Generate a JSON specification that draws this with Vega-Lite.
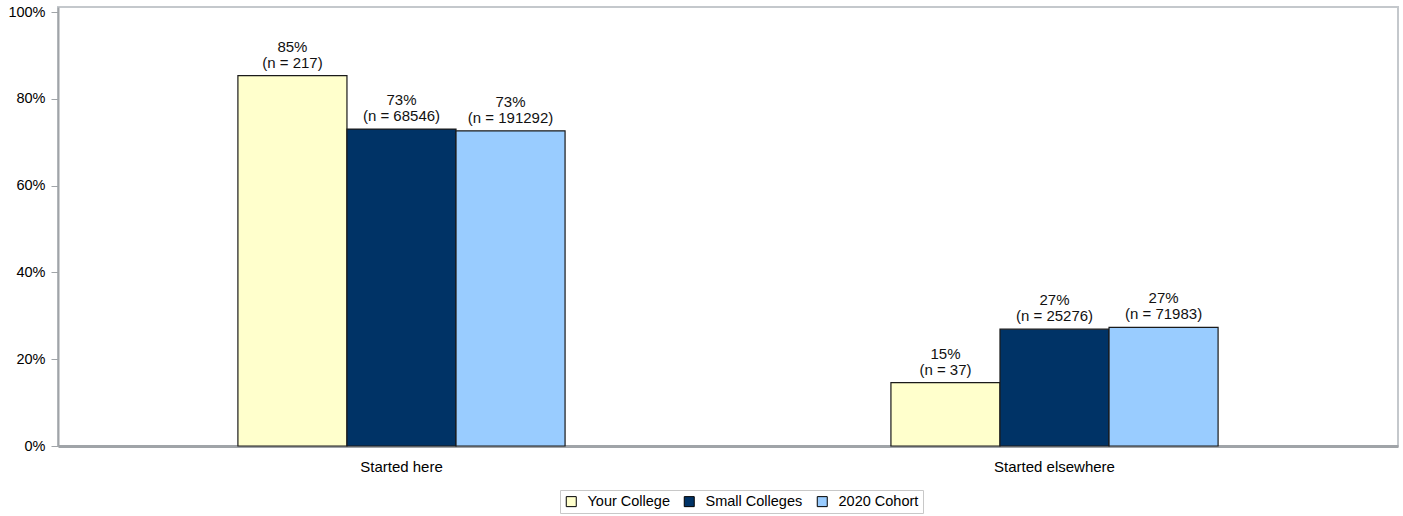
{
  "$schema": "https://vega.github.io/schema/vega-lite/v6.json",
  "width": 1340,
  "height": 439,
  "autosize": {"type": "none"},
  "padding": {"left": 58, "top": 7, "right": 5, "bottom": 70},
  "background": "white",
  "config": {
    "font": "Liberation Sans",
    "view": {"stroke": "#c4c8cc", "strokeWidth": 2}
  },
  "data": {
    "values": [
      {"start": "Started here", "group": "Your College", "value": 0.854, "n": 217},
      {"start": "Started here", "group": "Small Colleges", "value": 0.7306, "n": 68546},
      {"start": "Started here", "group": "2020 Cohort", "value": 0.7266, "n": 191292},
      {"start": "Started elsewhere", "group": "Your College", "value": 0.146, "n": 37},
      {"start": "Started elsewhere", "group": "Small Colleges", "value": 0.2694, "n": 25276},
      {"start": "Started elsewhere", "group": "2020 Cohort", "value": 0.2734, "n": 71983}
    ]
  },
  "transform": [
    {"calculate": "format(datum.value, '.0%') + '\\n(n = ' + datum.n + ')'", "as": "label"}
  ],
  "encoding": {
    "x": {
      "field": "start",
      "type": "nominal",
      "sort": ["Started here", "Started elsewhere"],
      "scale": {"paddingInner": 0.499, "paddingOuter": 0.2755},
      "axis": {
        "title": null,
        "labelAngle": 0,
        "ticks": false,
        "labelPadding": 13,
        "labelFontSize": 15,
        "labelColor": "#000",
        "domainColor": "#a0a4a8",
        "domainWidth": 3
      }
    },
    "xOffset": {
      "field": "group",
      "type": "nominal",
      "sort": ["Your College", "Small Colleges", "2020 Cohort"],
      "scale": {"paddingOuter": 0, "paddingInner": 0}
    },
    "y": {
      "field": "value",
      "type": "quantitative",
      "scale": {"domain": [0, 1.012], "nice": false},
      "axis": {
        "title": null,
        "format": ".0%",
        "values": [0, 0.2, 0.4, 0.6, 0.8, 1.0],
        "grid": false,
        "tickSize": 7,
        "tickColor": "#a0a4a8",
        "domainColor": "#a0a4a8",
        "domainWidth": 2,
        "labelFontSize": 14.5,
        "labelColor": "#000",
        "labelPadding": 6
      }
    }
  },
  "layer": [
    {
      "mark": {"type": "bar", "stroke": "#1a1a1a", "strokeWidth": 1.2},
      "encoding": {
        "color": {
          "field": "group",
          "type": "nominal",
          "sort": ["Your College", "Small Colleges", "2020 Cohort"],
          "scale": {
            "domain": ["Your College", "Small Colleges", "2020 Cohort"],
            "range": ["#ffffcc", "#003366", "#99ccff"]
          },
          "legend": {
            "title": null,
            "orient": "none",
            "direction": "horizontal",
            "legendX": 502,
            "legendY": 483,
            "strokeColor": "#c8c8c8",
            "padding": 4,
            "symbolType": "square",
            "symbolSize": 100,
            "symbolStrokeColor": "#000",
            "symbolStrokeWidth": 1,
            "symbolOpacity": 1,
            "labelFontSize": 14.5,
            "labelColor": "#000",
            "labelOffset": 9,
            "columnPadding": 12
          }
        }
      }
    },
    {
      "mark": {
        "type": "text",
        "baseline": "bottom",
        "dy": -21,
        "fontSize": 15,
        "lineHeight": 16,
        "lineBreak": "\n",
        "color": "#111"
      },
      "encoding": {"text": {"field": "label", "type": "nominal"}}
    }
  ]
}
